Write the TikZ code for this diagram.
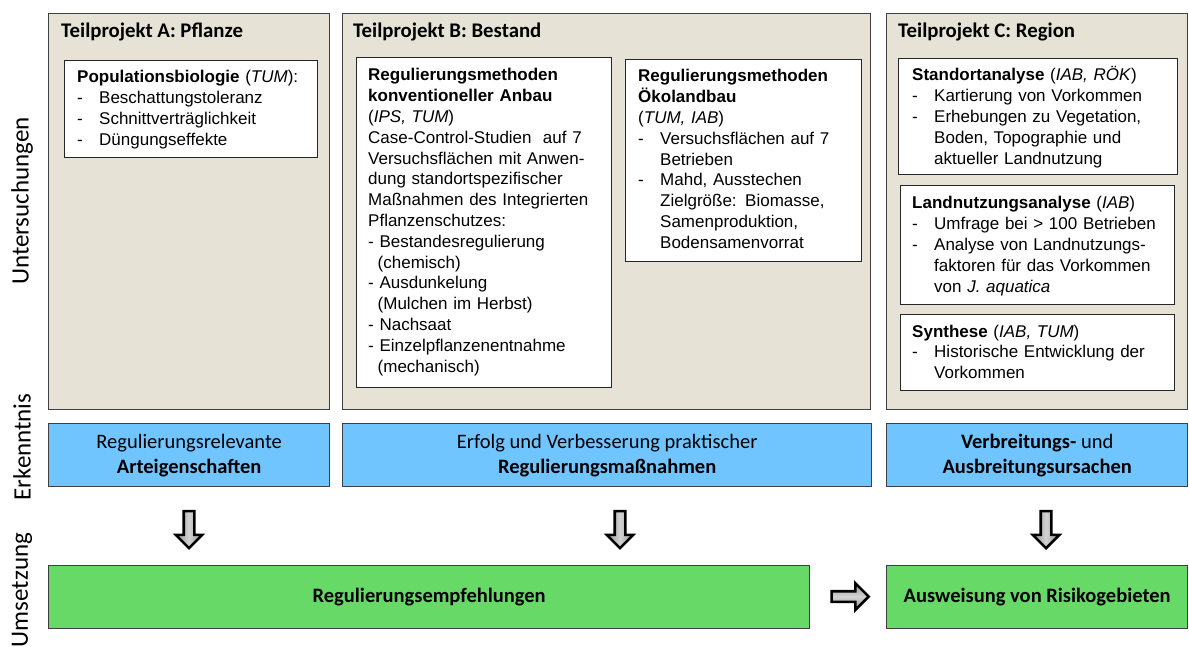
\documentclass[tikz,border=0pt]{standalone}
\usepackage{fontspec}
\setmainfont{Liberation Sans}
\newfontfamily\calfont{Carlito}
\usetikzlibrary{shapes.arrows,calc}
\definecolor{beige}{HTML}{E6E2D6}
\definecolor{lblue}{HTML}{71C5FF}
\definecolor{lgreen}{HTML}{66D966}
\definecolor{bordergray}{HTML}{3F3F3F}
\newcommand{\dashitem}{\makebox[22pt][l]{-}}
\newcommand{\contitem}{\hspace*{22pt}}
\tikzset{
  outerbox/.style={draw=bordergray, line width=1.3pt, fill=beige, anchor=north west, inner sep=0pt},
  innerbox/.style={draw=black!85, line width=1.1pt, fill=white, anchor=north west, inner sep=0pt},
  bluebox/.style={draw=bordergray, line width=1.3pt, fill=lblue, anchor=north west, inner sep=0pt, minimum height=63pt},
  greenbox/.style={draw=bordergray, line width=1.3pt, fill=lgreen, anchor=north west, inner sep=0pt, minimum height=63pt},
  titletext/.style={anchor=base west, inner sep=0pt, font=\calfont\bfseries\fontsize{20.8}{24}\selectfont},
  bodytext/.style={anchor=base west, inner sep=0pt, align=left, text width=300pt, font=\fontsize{17}{20.8}\selectfont},
  resulttext/.style={align=center, inner sep=0pt, font=\calfont\fontsize{20.5}{25}\selectfont},
  sidelabel/.style={rotate=90, inner sep=0pt, font=\calfont\fontsize{25}{30}\selectfont},
  blockarrow/.style={single arrow, draw=black, line width=2.6pt, line join=miter,
    minimum height=37pt, minimum width=0pt, single arrow head extend=8pt, inner sep=4pt},
  downarrow/.style={blockarrow, shape border rotate=270, left color=gray!85, right color=gray!85, middle color=gray!35},
  rightarrow/.style={blockarrow, top color=gray!85, bottom color=gray!85, middle color=gray!35},
}
\begin{document}
\begin{tikzpicture}[x=1pt, y=-1pt]
\useasboundingbox (0,0) rectangle (1189,647);

% side labels
\node[sidelabel] (lu) at (22,201) {Untersuchungen};
\node[sidelabel] (le) at (22,447) {Erkenntnis};
\node[sidelabel] (lm) at (22,590) {Umsetzung};

% outer boxes
\node[outerbox, minimum width=281pt, minimum height=396pt] (A) at (48,13) {};
\node[outerbox, minimum width=528pt, minimum height=396pt] (B) at (342,13) {};
\node[outerbox, minimum width=301pt, minimum height=396pt] (C) at (886,13) {};

\node[titletext] (tA) at (61,38) {Teilprojekt A: Pflanze};
\node[titletext] (tB) at (353,38) {Teilprojekt B: Bestand};
\node[titletext] (tC) at (898,38) {Teilprojekt C: Region};

% inner boxes
\node[innerbox, minimum width=253pt, minimum height=97pt] (A1) at (64,60) {};
\node[innerbox, minimum width=255pt, minimum height=330pt] (B1) at (356,57) {};
\node[innerbox, minimum width=236pt, minimum height=202pt] (B2) at (625,59) {};
\node[innerbox, minimum width=279pt, minimum height=116pt] (C1) at (898,58) {};
\node[innerbox, minimum width=274pt, minimum height=119pt] (C2) at (900,185) {};
\node[innerbox, minimum width=274pt, minimum height=76pt] (C3) at (900,314) {};

\node[bodytext] (A1t) at (77,83) {\textbf{Populationsbiologie} (\textit{TUM}):\\
\dashitem Beschattungstoleranz\\
\dashitem Schnittverträglichkeit\\
\dashitem Düngungseffekte};

\node[bodytext] (B1t) at (368,81) {\textbf{Regulierungsmethoden}\\
\textbf{konventioneller Anbau}\\
(\textit{IPS, TUM})\\
Case-Control-Studien\ \ auf 7\\
Versuchsflächen mit Anwen-\\
dung standortspezifischer\\
Maßnahmen des Integrierten\\
Pflanzenschutzes:\\
- Bestandesregulierung\\
\hspace*{9.5pt}(chemisch)\\
- Ausdunkelung\\
\hspace*{9.5pt}(Mulchen im Herbst)\\
- Nachsaat\\
- Einzelpflanzenentnahme\\
\hspace*{9.5pt}(mechanisch)};

\node[bodytext] (B2t) at (638,82) {\textbf{Regulierungsmethoden}\\
\textbf{Ökolandbau}\\
(\textit{TUM, IAB})\\
\dashitem Versuchsflächen auf 7\\
\contitem Betrieben\\
\dashitem Mahd, Ausstechen\\
\contitem Zielgröße: Biomasse,\\
\contitem Samenproduktion,\\
\contitem Bodensamenvorrat};

\node[bodytext] (C1t) at (912,81) {\textbf{Standortanalyse} (\textit{IAB, RÖK})\\
\dashitem Kartierung von Vorkommen\\
\dashitem Erhebungen zu Vegetation,\\
\contitem Boden, Topographie und\\
\contitem aktueller Landnutzung};

\node[bodytext] (C2t) at (912,209) {\textbf{Landnutzungsanalyse} (\textit{IAB})\\
\dashitem Umfrage bei > 100 Betrieben\\
\dashitem Analyse von Landnutzungs-\\
\contitem faktoren für das Vorkommen\\
\contitem von \textit{J. aquatica}};

\node[bodytext] (C3t) at (912,337) {\textbf{Synthese} (\textit{IAB, TUM})\\
\dashitem Historische Entwicklung der\\
\contitem Vorkommen};

% result boxes
\node[bluebox, minimum width=281pt] (EA) at (48,423) {};
\node[bluebox, minimum width=529pt] (EB) at (342,423) {};
\node[bluebox, minimum width=301pt] (EC) at (886,423) {};
\node[resulttext] at (EA.center) {Regulierungsrelevante\\\textbf{Arteigenschaften}};
\node[resulttext] at (EB.center) {Erfolg und Verbesserung praktischer\\\textbf{Regulierungsmaßnahmen}};
\node[resulttext] at (EC.center) {\textbf{Verbreitungs-} und\\\textbf{Ausbreitungsursachen}};

% implementation boxes
\node[greenbox, minimum width=761pt] (UL) at (48,565) {};
\node[greenbox, minimum width=301pt] (UR) at (886,565) {};
\node[resulttext] at (UL.center) {\textbf{Regulierungsempfehlungen}};
\node[resulttext] at (UR.center) {\textbf{Ausweisung von Risikogebieten}};

% block arrows
\node[downarrow] (d1) at (189,527) {};
\node[downarrow] (d2) at (620,527) {};
\node[downarrow] (d3) at (1046,527) {};
\node[rightarrow] (r1) at (847.5,596.5) {};
\end{tikzpicture}
\end{document}
